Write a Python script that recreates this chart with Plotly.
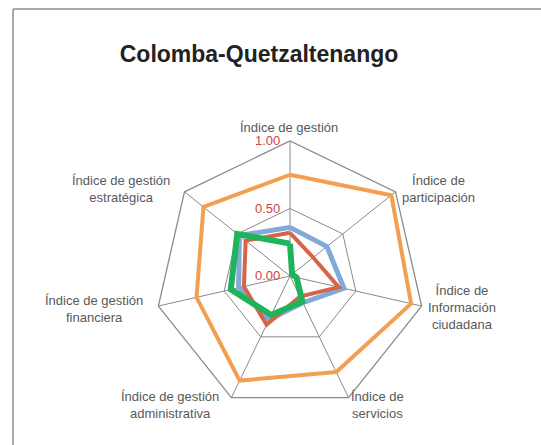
import plotly.graph_objects as go

categories = [
    "Índice de gestión",
    "Índice de participación",
    "Índice de Información ciudadana",
    "Índice de servicios",
    "Índice de gestión administrativa",
    "Índice de gestión financiera",
    "Índice de gestión estratégica",
]

orange_vals = [0.75, 0.96, 0.92, 0.79, 0.86, 0.71, 0.82]
blue_vals = [0.36, 0.35, 0.41, 0.22, 0.36, 0.39, 0.48]
red_vals = [0.32, 0.22, 0.37, 0.17, 0.40, 0.35, 0.42]
green_vals = [0.24, 0.02, 0.05, 0.21, 0.32, 0.45, 0.50]

# label text and its approximate place (pixels) around the web
label_text = [
    "Índice de gestión",
    "Índice de<br>participación",
    "Índice de<br>Información<br>ciudadana",
    "Índice de<br>servicios",
    "Índice de gestión<br>administrativa",
    "Índice de gestión<br>financiera",
    "Índice de gestión<br>estratégica",
]
label_xy = [(289, 127), (438, 189), (462, 307), (377, 405), (170, 405), (94, 309), (121, 189)]

W, H = 541, 445
cx, cy, R = 290, 276, 135


def closed(v):
    return v + v[:1]


def px(x, y):
    return x / W, 1 - y / H


series = [
    ("Orange", orange_vals, "#F2A04F", 4),
    ("Blue", blue_vals, "#82A9D9", 5),
    ("Red", red_vals, "#D6644A", 4),
    ("Green", green_vals, "#1FB45A", 6),
]

fig = go.Figure()
for name, vals, color, w in series:
    fig.add_trace(go.Scatterpolar(
        r=closed(vals),
        theta=closed(categories),
        mode="lines",
        name=name,
        line={"color": color, "width": w},
        hoverinfo="skip",
    ))

annotations = []
for txt, (x, y) in zip(label_text, label_xy):
    ax, ay = px(x, y)
    annotations.append(dict(
        text=txt, x=ax, y=ay, xref="paper", yref="paper",
        showarrow=False, xanchor="center", yanchor="middle",
        font={"family": "Liberation Sans, Arial", "size": 13, "color": "#595959"},
    ))

tx, ty = px(259, 54)
fx0, fy1 = px(13, 9)
fig.update_layout(
    width=W,
    height=H,
    margin={"l": 0, "r": 0, "t": 0, "b": 0},
    paper_bgcolor="white",
    showlegend=False,
    hovermode=False,
    title={
        "text": "<b>Colomba-Quetzaltenango</b>",
        "x": tx, "xanchor": "center",
        "y": ty, "yanchor": "middle",
        "font": {"family": "Liberation Sans, Arial", "size": 23, "color": "#222222"},
    },
    polar={
        "domain": {"x": [(cx - R) / W, (cx + R) / W], "y": [1 - (cy + R) / H, 1 - (cy - R) / H]},
        "bgcolor": "white",
        "gridshape": "linear",
        "radialaxis": {
            "range": [0, 1],
            "dtick": 0.5,
            "tickformat": ".2f",
            "ticksuffix": "\u00a0\u00a0",
            "angle": 90,
            "side": "counterclockwise",
            "tickangle": 90,
            "showline": False,
            "ticks": "",
            "gridcolor": "#8a8a8a",
            "gridwidth": 1.3,
            "tickfont": {"family": "Liberation Sans, Arial", "size": 13, "color": "#D0453F"},
        },
        "angularaxis": {
            "rotation": 90,
            "direction": "clockwise",
            "showticklabels": False,
            "ticks": "",
            "linecolor": "#8a8a8a",
            "linewidth": 1.3,
            "gridcolor": "#8a8a8a",
            "gridwidth": 1.3,
        },
    },
    annotations=annotations,
    shapes=[
        {"type": "line", "xref": "paper", "yref": "paper",
         "x0": fx0, "x1": fx0, "y0": 0, "y1": fy1,
         "line": {"color": "#8c8c8c", "width": 1.5}},
        {"type": "line", "xref": "paper", "yref": "paper",
         "x0": fx0, "x1": 1, "y0": fy1, "y1": fy1,
         "line": {"color": "#8c8c8c", "width": 1.5}},
    ],
)

# drop the browser's default 8px body margin so the figure fills the window
fig.write_html(
    "out.html",
    config={"displayModeBar": False},
    post_script="document.body.style.margin='0px';",
)
